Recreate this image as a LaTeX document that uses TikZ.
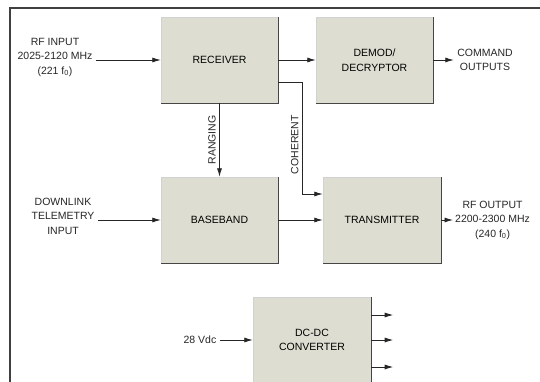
\documentclass[tikz,border=0pt]{standalone}
\usepackage{fontspec}
\setmainfont{Liberation Sans}
\usetikzlibrary{arrows.meta}
\definecolor{boxgray}{RGB}{221,221,209}

\begin{document}
\begin{tikzpicture}[x=1pt, y=-1pt,
	font=\fontsize{10.5}{14.5}\selectfont,
	unit/.style={fill=boxgray, draw=gray!35, minimum width=117pt, minimum height=86pt, align=center, inner sep=0pt},
	lbl/.style={align=center, text=black!85},
	sig/.style={-{Latex[length=8.5pt,width=5pt]}, line width=0.8pt, black!85}]
	\useasboundingbox (0,0) rectangle (540,382);
	\draw [line width=1.2pt, black!75] (10,382) -- (10,8) -- (540,8);

	\node [unit] (rx) at (219.5,60) {RECEIVER};
	\node [unit] (demod) at (374.5,60) {DEMOD/\\DECRYPTOR};
	\node [unit] (bb) at (219.5,220) {BASEBAND};
	\node [unit, minimum width=118pt] (tx) at (382,220) {TRANSMITTER};
	\node [unit, minimum width=118pt] (dcdc) at (312,340) {DC-DC\\CONVERTER};
	\foreach \b in {rx,demod,bb,tx,dcdc}
		\draw [gray!55!black, line width=0.8pt] (\b.north east) -- (\b.south east) -- (\b.south west);

	\node [lbl] (rfin) at (55,57) {RF INPUT\\2025-2120 MHz\\(221 f\textsubscript{0})};
	\node [lbl] (dl) at (63,216) {DOWNLINK\\TELEMETRY\\INPUT};
	\node [lbl] (cmd) at (485,60) {COMMAND\\OUTPUTS};
	\node [lbl, anchor=west, inner sep=2pt] (rfout) at (453,220) {RF OUTPUT\\2200-2300 MHz\\(240 f\textsubscript{0})};
	\node [lbl] (vdc) at (200,340) {28 Vdc};

	\draw [sig] (rfin.east |- rx.west) -- (rx.west);
	\draw [sig] (rx.east) -- (demod.west);
	\draw [sig] (demod.east) -- (cmd.west);
	\draw [sig] (rx.south) -- node [lbl, rotate=90, anchor=south] {RANGING} (bb.north);
	\draw [sig] ([yshift=-22pt]rx.east) -- ++(24,0) |- node [lbl, pos=0.28, rotate=90, anchor=south] {COHERENT} ([yshift=26pt]tx.west);
	\draw [sig] (dl.east |- bb.west) -- (bb.west);
	\draw [sig] (bb.east) -- (tx.west);
	\draw [sig] (tx.east) -- (rfout.west);
	\draw [sig] (vdc.east) -- (dcdc.west);
	\foreach \dy [count=\i] in {25,0,-27} {
		\coordinate (out\i) at ([xshift=22pt, yshift=\dy pt]dcdc.east);
		\draw [sig] ([yshift=\dy pt]dcdc.east) -- (out\i);
	}
\end{tikzpicture}
\end{document}
